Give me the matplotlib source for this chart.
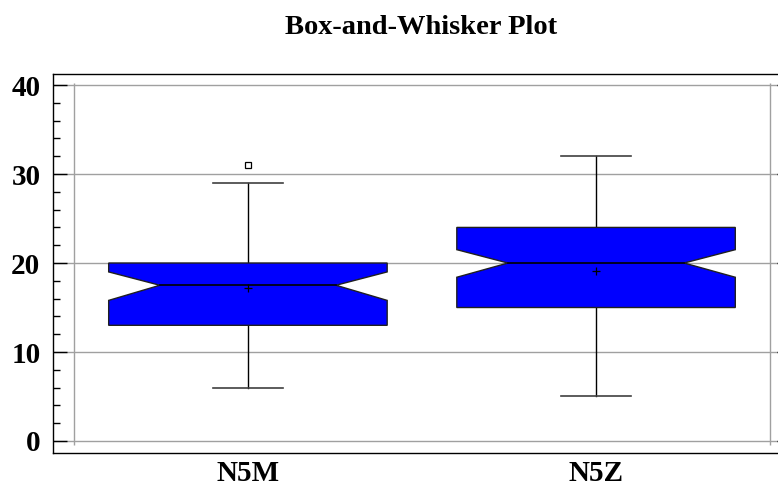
import numpy as np
import matplotlib
matplotlib.use('Agg')
import matplotlib.pyplot as plt
from matplotlib.ticker import MultipleLocator

# Summary statistics per sample
groups = ['N5M', 'N5Z']
q1 = [13.0, 15.0]
medians = [17.5, 20.0]
q3 = [20.0, 24.0]
whisk_lo = [6.0, 5.0]
whisk_hi = [29.0, 32.0]
means = [17.2, 19.1]
notch_lo = [15.8, 18.4]
notch_hi = [19.0, 21.5]
outliers = [[31.0], []]

plt.rcParams['font.family'] = ['Liberation Serif', 'DejaVu Serif']
plt.rcParams['font.weight'] = 'bold'

fig = plt.figure(figsize=(7.78, 4.86), dpi=100)
ax = fig.add_axes([0.0681, 0.0679, 0.9486, 0.7798])

half = 0.4     # half box width
inner = 0.253  # half width at the notch apex
cap = 0.1      # half cap width

ax.set_xlim(0.44, 2.56)
ax.set_ylim(-1.35, 41.24)

# grid
for v in np.arange(0, 41, 10):
    ax.axhline(v, color='#a0a0a0', lw=1.0, zorder=1)
ax.vlines([0.5, 2.5], -0.45, 40.2, color='#a0a0a0', lw=1.0, zorder=1)

for i, name in enumerate(groups):
    x = i + 1
    # notched box outline
    xs = [x - half, x + half, x + half, x + inner, x + half, x + half,
          x - half, x - half, x - inner, x - half, x - half]
    ys = [q1[i], q1[i], notch_lo[i], medians[i], notch_hi[i], q3[i],
          q3[i], notch_hi[i], medians[i], notch_lo[i], q1[i]]
    ax.fill(xs, ys, facecolor='#0000ff', edgecolor='#202020', lw=1.0, zorder=3)
    ax.plot([x - inner, x + inner], [medians[i], medians[i]], color='black', lw=1.2, zorder=4)
    # whiskers and caps
    ax.plot([x, x], [q3[i], whisk_hi[i]], color='black', lw=1.0, zorder=2)
    ax.plot([x, x], [whisk_lo[i], q1[i]], color='black', lw=1.0, zorder=2)
    for w in (whisk_lo[i], whisk_hi[i]):
        ax.plot([x - cap, x + cap], [w, w], color='#404040', lw=1.2, zorder=2)
    # mean and outliers
    ax.plot(x, means[i], marker='+', color='black', ms=6, mew=0.9, zorder=5)
    if outliers[i]:
        ax.plot([x] * len(outliers[i]), outliers[i], ls='none', marker='s', ms=4.5,
                mfc='white', mec='black', mew=0.9, zorder=5)

ax.set_xticks([1, 2])
ax.set_xticklabels(groups, fontsize=21, fontweight='bold')
ax.tick_params(axis='x', length=0, pad=5)

ax.yaxis.set_major_locator(MultipleLocator(10))
ax.yaxis.set_minor_locator(MultipleLocator(2))
ax.tick_params(axis='y', which='both', direction='in', left=True, right=True,
               labelsize=21, pad=9, color='black')
ax.tick_params(axis='y', which='major', length=10, width=1.0)
ax.tick_params(axis='y', which='minor', length=5, width=1.0)
for lab in ax.get_yticklabels():
    lab.set_fontweight('bold')

for s in ax.spines.values():
    s.set_color('black')
    s.set_linewidth(1.0)

fig.text(0.541, 0.944, 'Box-and-Whisker Plot', ha='center', va='center',
         fontsize=20.5, fontweight='bold')

fig.savefig('out.png', dpi=100)
